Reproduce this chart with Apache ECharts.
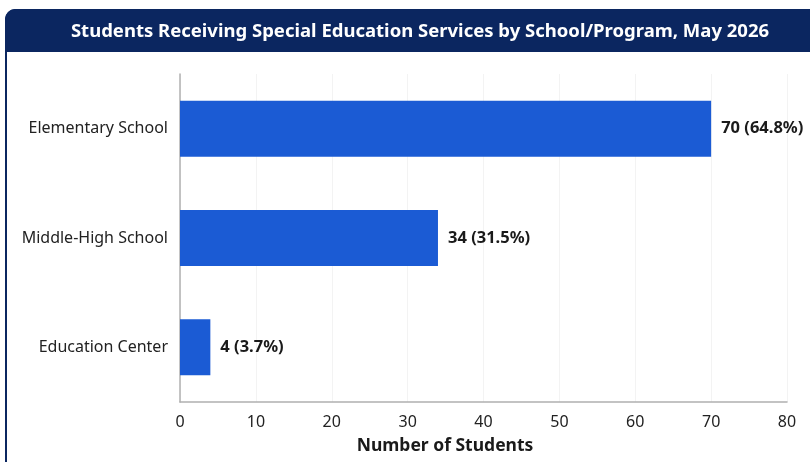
<!DOCTYPE html>
<html>
<head>
<meta charset="utf-8">
<script src="https://cdn.jsdelivr.net/npm/echarts@6/dist/echarts.min.js"></script>
<style>
html,body{margin:0;padding:0;background:#ffffff;}
#chart{width:810px;height:462px;}
</style>
</head>
<body>
<div id="chart"></div>
<script>
const titleText = 'Students Receiving Special Education Services by School/Program, May 2026';
const categories = ['Elementary School', 'Middle-High School', 'Education Center'];
const values = [70, 34, 4];
const percents = ['64.8%', '31.5%', '3.7%'];
const xTicks = [0, 10, 20, 30, 40, 50, 60, 70, 80];
const xAxisName = 'Number of Students';

const navy = '#0b2660';
const barColor = '#1b5bd4';
const font = '"Noto Sans", "Open Sans", sans-serif';

const chart = echarts.init(document.getElementById('chart'));
chart.setOption({
  backgroundColor: '#ffffff',
  animation: false,
  graphic: [
    { type: 'rect', z: -10, shape: { x: 6, y: 10, width: 820, height: 470, r: 10 },
      style: { fill: '#ffffff', stroke: navy, lineWidth: 2 } },
    { type: 'rect', z: -9, shape: { x: 5, y: 9, width: 822, height: 43, r: [10, 10, 0, 0] },
      style: { fill: navy } },
    { type: 'text', z: 10, x: 420, y: 32,
      style: { text: titleText, fill: '#ffffff', font: '700 18.5px ' + font, align: 'center', verticalAlign: 'middle' } },
    { type: 'text', z: 10, x: 445, y: 446,
      style: { text: xAxisName, fill: '#1a1a1a', font: '700 17.5px ' + font, align: 'center', verticalAlign: 'middle' } }
  ],
  grid: { left: 180, right: 23, top: 74, bottom: 60, containLabel: false },
  xAxis: {
    type: 'value', min: xTicks[0], max: xTicks[xTicks.length - 1], interval: 10,
    axisLine: { show: true, lineStyle: { color: '#b0b0b0', width: 1.5 } },
    axisTick: { show: false },
    axisLabel: { color: '#222', fontSize: 16, fontFamily: font, margin: 12 },
    splitLine: { show: true, lineStyle: { color: '#f3f3f3' } }
  },
  yAxis: {
    type: 'category', data: categories, inverse: true,
    axisLine: { show: true, lineStyle: { color: '#b0b0b0', width: 1.5 } },
    axisTick: { show: false },
    axisLabel: { color: '#222', fontSize: 16, fontFamily: font, margin: 12 }
  },
  series: [{
    type: 'bar',
    data: values,
    barWidth: 56,
    itemStyle: { color: barColor },
    label: {
      show: true, position: 'right', distance: 10,
      color: '#1a1a1a', fontSize: 16.5, fontWeight: 'bold', fontFamily: font,
      formatter: p => p.value + ' (' + percents[p.dataIndex] + ')'
    }
  }]
});
</script>
</body>
</html>
